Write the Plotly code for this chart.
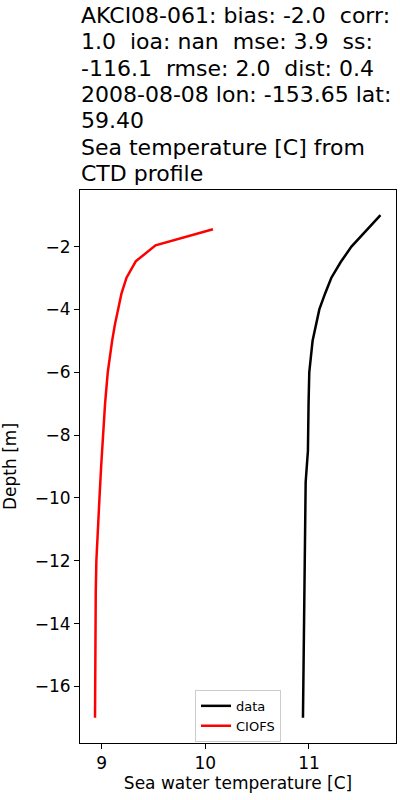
import plotly.graph_objects as go

# CTD profile (observed)
data_depth = [-1, -2, -2.5, -3, -3.5, -4, -5, -6, -7, -8, -8.5, -9.5, -10, -11, -12, -13, -14, -15, -16, -17]
data_temp = [11.69, 11.41, 11.305, 11.215, 11.155, 11.10, 11.035, 11.003, 10.996, 10.993, 10.99, 10.968,
             10.966, 10.962, 10.958, 10.955, 10.951, 10.948, 10.945, 10.942]

# CIOFS model profile
model_depth = [-1.45, -1.96, -2.47, -2.99, -3.5, -4, -4.5, -5, -5.5, -6, -7, -8, -9, -10, -11, -12, -13, -14, -15, -16, -17]
model_temp = [10.073, 9.519, 9.328, 9.239, 9.19, 9.155, 9.126, 9.100, 9.080, 9.058, 9.032, 9.011, 8.994,
              8.978, 8.96, 8.948, 8.942, 8.939, 8.937, 8.936, 8.935]

title_lines = [
    "AKCI08-061: bias: -2.0  corr:",
    "1.0  ioa: nan  mse: 3.9  ss:",
    "-116.1  rmse: 2.0  dist: 0.4",
    "2008-08-08 lon: -153.65 lat:",
    "59.40",
    "Sea temperature [C] from",
    "CTD profile",
]

font = "DejaVu Sans"

fig = go.Figure()
fig.add_trace(go.Scatter(x=data_temp, y=data_depth, mode="lines", name="data",
                         line=dict(color="black", width=2.5)))
fig.add_trace(go.Scatter(x=model_temp, y=model_depth, mode="lines", name="CIOFS",
                         line=dict(color="#ff0000", width=2.5)))

axis_common = dict(
    showgrid=False, zeroline=False, showline=True, linecolor="black", linewidth=1,
    mirror=True, ticks="outside", ticklen=5, tickcolor="black", automargin=False,
    tickfont=dict(family=font, size=17, color="black"),
)

fig.update_layout(
    width=400, height=800,
    margin=dict(l=80, r=4, t=190, b=57),
    paper_bgcolor="white", plot_bgcolor="white",
    font=dict(family=font, color="black"),
    xaxis=dict(range=[8.79, 11.84], tickvals=[9, 10, 11],
               title=dict(text="Sea water temperature [C]", font=dict(size=17), standoff=4),
               **axis_common),
    yaxis=dict(range=[-17.8, -0.2], tickvals=[-16, -14, -12, -10, -8, -6, -4, -2],
               title=dict(text="Depth [m]", font=dict(size=17), standoff=17),
               **axis_common),
    legend=dict(x=0.5, xanchor="center", y=0.002, yanchor="bottom",
                bgcolor="white", bordercolor="#cccccc", borderwidth=1,
                font=dict(family=font, size=13, color="black")),
    showlegend=True,
)

# title: one left-aligned annotation per line so the line spacing matches
plot_top, plot_h = 190, 553
for i, line in enumerate(title_lines):
    fy = 15.5 + 26.3 * i
    fig.add_annotation(text=line, xref="paper", yref="paper",
                       x=0, y=1 + (plot_top - fy) / plot_h, xanchor="left", yanchor="middle",
                       align="left", showarrow=False, borderpad=0,
                       font=dict(family=font, size=22, color="black"))

# drop the default 8px body margin so the figure sits at the page corner
fig.write_html("out.html", config={"displayModeBar": False},
               post_script="document.body.style.margin = '0';")
